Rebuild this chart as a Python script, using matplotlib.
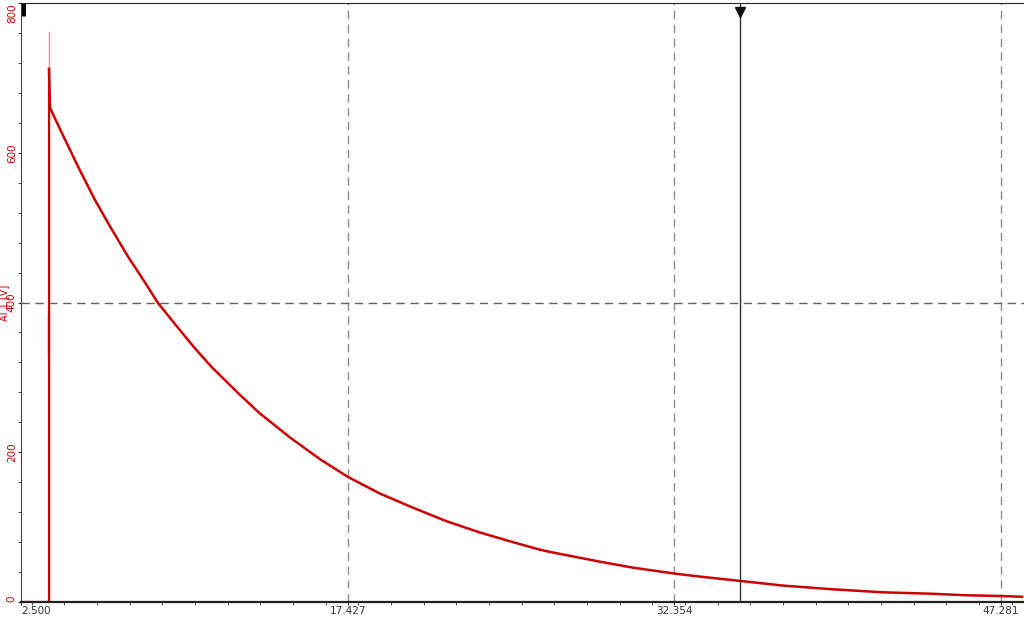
import matplotlib
matplotlib.use("Agg")
import matplotlib.pyplot as plt
from matplotlib.ticker import MultipleLocator, FixedLocator

# Data (time [s], AI 1 [V])
t_pre = [2.5, 3.78]
v_pre = [0, 0]

spike_t = 3.78
spike_peak = 761
spike_top = 712
blob_t = 3.76
blob_v = [330, 383]

t_decay = [3.78, 3.824, 4.358, 5.116, 5.878, 6.640, 7.398, 8.160, 8.768, 9.681,
           10.443, 11.205, 12.420, 13.410, 14.780, 16.149, 17.441, 18.888, 20.408,
           21.933, 23.453, 24.973, 26.192, 26.65, 28.93, 30.44, 32.35, 33.5, 35.41,
           37.29, 39.57, 41.85, 44.13, 45.68, 47.28, 48.24]
v_decay = [712, 660, 627, 581, 537, 498, 461, 427, 399, 366,
           339, 314, 279, 252, 220, 191, 167, 145, 126,
           108, 93, 80, 70, 67, 54, 46, 38, 34, 28,
           22, 17, 13, 11, 9, 8, 7]

x_major = [2.500, 17.427, 32.354, 47.281]
x_labels = ["2.500", "17.427", "32.354", "47.281"]
y_major = [0, 200, 400, 600, 800]
cursor_t = 35.37

red = "#cc0000"

fig = plt.figure(figsize=(10.24, 6.17), dpi=100)
ax = fig.add_axes([21 / 1024, 1 - 602 / 617, 1 - 21 / 1024, (602 - 3) / 617])

ax.plot(t_pre, v_pre, color=red, lw=1.6)
ax.plot([spike_t, spike_t], [0, spike_peak], color="#d89090", lw=1.0)
ax.plot([spike_t, spike_t], [0, spike_top], color=red, lw=1.6)
ax.plot([blob_t, blob_t], blob_v, color=red, lw=1.6)
ax.plot(t_decay, v_decay, color=red, lw=1.8)

# grid: dashed at major x ticks and at 400 V
for xv in x_major[1:]:
    ax.axvline(xv, color="#8c8c8c", lw=1.0, ls=(0, (6, 4)), zorder=0)
ax.axhline(400, color="#606060", lw=1.0, ls=(0, (6, 4)), zorder=0)

# cursor
ax.axvline(cursor_t, color="#303030", lw=1.0)
ax.plot([cursor_t], [788], marker="v", color="#111111", ms=7, clip_on=False)
ax.text(x_major[2] - 0.2, 810, "Rec", color="#555555", fontsize=7, ha="center",
        va="center", clip_on=False)

# small start marker at top-left
ax.plot([2.57, 2.57], [783, 800], color="black", lw=3.5, solid_capstyle="butt", clip_on=False)

ax.set_xlim(2.5, 48.33)
ax.set_ylim(0, 800)

ax.xaxis.set_major_locator(FixedLocator(x_major))
ax.set_xticklabels(x_labels, fontsize=7.5, color="#333333")
ax.get_xticklabels()[0].set_ha("left")
ax.xaxis.set_minor_locator(MultipleLocator(14.927 / 10))
ax.tick_params(axis="x", which="both", direction="out", length=2, color="#333333", pad=1)

ax.yaxis.set_major_locator(FixedLocator(y_major))
ax.yaxis.set_minor_locator(MultipleLocator(40))
ax.set_yticklabels([str(v) for v in y_major], fontsize=7.5, color=red, rotation=90,
                   va="center")
ax.tick_params(axis="y", which="both", direction="out", length=2, color="#333333", pad=1)
ylabs = ax.get_yticklabels()
ylabs[-1].set_va("top")
ylabs[0].set_va("bottom")

ax.set_ylabel("AI 1 [V]", color=red, fontsize=7)
ax.yaxis.set_label_coords(-0.012, 0.5)

ax.spines["right"].set_visible(False)
ax.spines["left"].set_color("#444444")
ax.spines["top"].set_color("#222222")
ax.spines["bottom"].set_color("#222222")
ax.spines["bottom"].set_linewidth(1.6)

fig.savefig("out.png", dpi=100)
